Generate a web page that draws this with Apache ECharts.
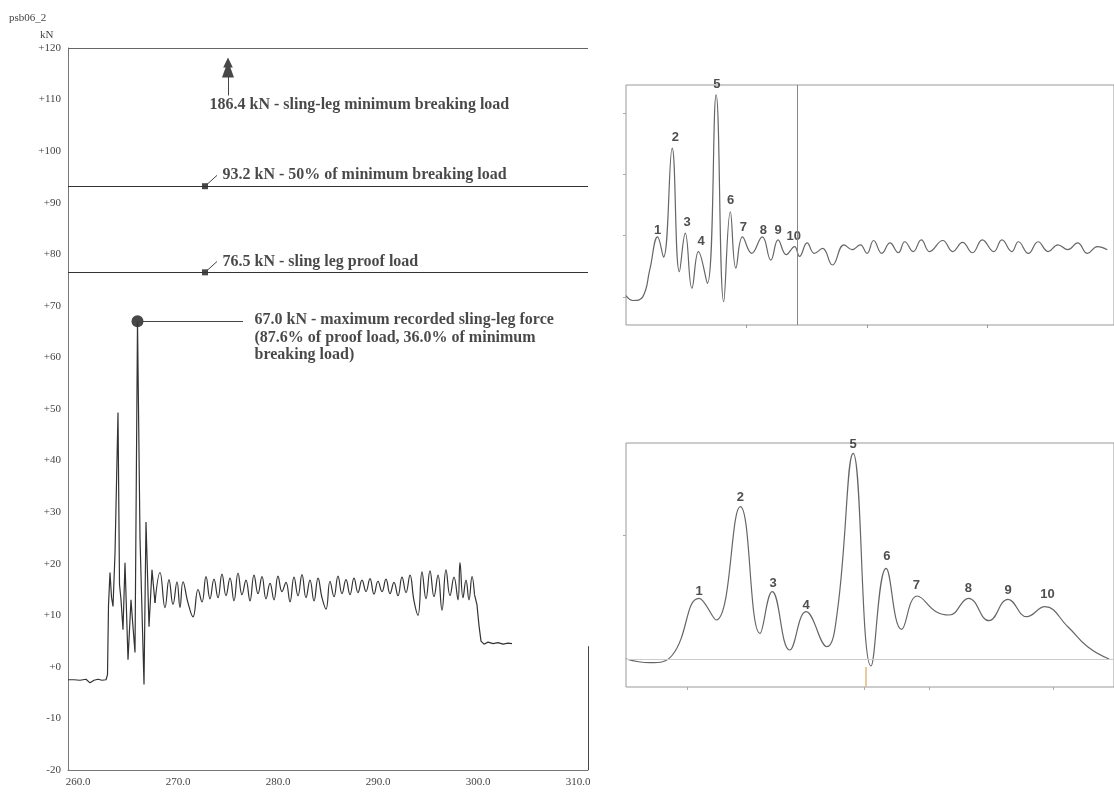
<!DOCTYPE html>
<html><head><meta charset="utf-8">
<script src="https://cdn.jsdelivr.net/npm/echarts@6/dist/echarts.min.js"></script>
<style>html,body{margin:0;padding:0;background:#fff}#c{width:1114px;height:793px}</style>
</head><body><div id="c"></div>
<script>
// ---------- data ----------
const chartTitle = 'psb06_2';
const yUnit = 'kN';
const xTicksLeft = [260, 270, 280, 290, 300, 310];
const refLevels = [93.2, 76.5];
const maxPoint = [265.95, 67.0];
const refTexts = [
  '186.4 kN - sling-leg minimum breaking load',
  '93.2 kN - 50% of minimum breaking load',
  '76.5 kN - sling leg proof load'
];
const maxText = '67.0 kN - maximum recorded sling-leg force\n(87.6% of proof load, 36.0% of minimum\nbreaking load)';

// recorded sling-leg force [time, kN] — onset (lift-off transients)
const forceOnset = [
  [259.0,-2.5],[259.6,-2.5],[260.2,-2.6],[260.8,-2.4],[261.2,-3.1],[261.6,-2.6],[262.0,-2.4],[262.4,-2.6],[262.8,-2.5],
  [262.95,-1.5],[263.05,12.0],[263.2,18.3],[263.35,13.5],[263.5,11.7],[263.7,22.0],[264.0,49.3],[264.15,16.0],[264.3,13.0],
  [264.5,7.2],[264.7,20.2],[265.0,1.4],[265.3,13.0],[265.45,9.0],[265.7,2.8],[265.95,67.0],[266.2,25.0],[266.6,-3.4],
  [266.8,28.1],[267.1,7.8],[267.4,18.8],[267.7,12.4]
];
// steady suspended phase
const forceSteady = [
  [267.7,12.4],[268.2,18.3],[268.7,11.5],[269.1,16.9],[269.5,12.1],[269.9,16.5],
  [270.2,11.5],[270.5,16.5],[271.0,12.4],[271.5,9.7],
  [272.0,15.0],[272.4,12.6],[272.8,17.5],[273.2,13.2],[273.6,17.0],[274.0,13.4],[274.4,18.0],[274.8,13.8],[275.2,17.2],
  [275.6,12.8],[276.0,18.2],[276.4,14.0],[276.8,16.8],[277.2,12.8],[277.6,17.8],[278.0,14.2],[278.4,17.5],[278.8,13.2],
  [279.2,16.2],[279.6,13.0],[280.0,17.6],[280.4,14.6],[280.8,16.4],[281.2,12.6],[281.6,17.4],[282.0,13.8],[282.4,17.9],
  [282.8,13.4],[283.2,16.8],[283.6,12.8],[284.0,17.2],[284.4,13.4],[284.8,11.2],[285.2,16.6],[285.6,13.6],[286.0,17.6],
  [286.4,14.2],[286.8,16.9],[287.2,14.0],[287.6,17.2],[288.0,14.4],[288.4,16.8],[288.8,14.6],[289.2,17.1],[289.6,14.1],
  [290.0,16.6],[290.4,14.6],[290.8,17.0],[291.2,14.2],[291.6,16.4],[292.0,13.8],[292.4,17.4],[292.8,14.4],[293.2,17.8],
  [293.6,12.8],[294.0,10.0],[294.4,18.4],[294.8,13.2],[295.2,18.6],[295.6,13.6],[296.0,17.8],[296.4,11.0],[296.8,18.8],
  [297.2,13.8],[297.6,17.4],[298.0,13.0],[298.2,20.2],[298.5,13.4],[298.8,16.8],[299.1,13.0],[299.4,17.5],[299.65,14.0]
];
// after set-down
const forceTail = [
  [299.65,14.0],[299.9,12.0],[300.1,8.0],[300.3,5.0],[300.6,4.4],[301.0,4.8],[301.5,4.5],[302.0,4.7],[302.5,4.4],[303.0,4.6],[303.4,4.5]
];

// upper-right panel trace [x, y]
const topTrace = [
  [0.0,0.02],[0.057,-0.06],[0.139,0.0],[0.197,0.44],[0.262,0.98],[0.311,0.65],[0.383,2.43],[0.443,0.41],
  [0.492,1.04],[0.547,0.14],[0.601,0.74],[0.675,0.22],[0.748,3.30],[0.811,-0.08],[0.866,1.39],[0.912,0.47],[0.967,0.98],
  [1.043,0.71],[1.131,0.98],[1.202,0.60],[1.262,0.93],[1.330,0.69],[1.399,0.82],[1.440,0.66],[1.503,0.88],[1.563,0.71],
  [1.631,0.79],[1.713,0.52],[1.809,0.85],[1.877,0.77],[1.945,0.85],[2.000,0.71],[2.055,0.92],[2.123,0.71],[2.191,0.88],
  [2.260,0.72],[2.314,0.90],[2.383,0.74],[2.451,0.93],[2.519,0.74],[2.629,0.92],[2.711,0.74],[2.793,0.89],[2.875,0.72],
  [2.957,0.93],[3.052,0.74],[3.120,0.93],[3.202,0.74],[3.257,0.90],[3.339,0.71],[3.420,0.90],[3.503,0.74],[3.585,0.85],
  [3.667,0.77],[3.748,0.88],[3.830,0.71],[3.912,0.82],[3.994,0.77]
];
const topPeakLabels = [
  ['1',0.262,1.09],['2',0.410,2.61],['3',0.508,1.21],['4',0.623,0.90],['5',0.754,3.47],
  ['6',0.869,1.58],['7',0.975,1.13],['8',1.139,1.09],['9',1.262,1.08],['10',1.393,0.98]
];
const topMarkerX = 1.418;

// lower-right panel trace [x, y]
const bottomTrace = [
  [0,0],[2.4,-0.37],[4.7,0.4],[7.4,6.07],[9.13,3.9],[11.57,15.23],[13.57,2.57],[14.8,6.73],
  [16.57,0.9],[18.23,4.73],[20.33,1.23],[21.4,4.8],[23.0,20.57],[24.8,-0.7],[26.33,9.07],[27.9,2.97],[29.47,6.3],
  [31.4,4.73],[32.73,4.4],[34.67,6.07],[36.73,3.83],[38.67,5.97],[40.57,4.23],[42.4,5.23],[44.73,3.23],[46.73,1.23],[48.9,0]
];
const bottomPeakLabels = [
  ['1',7.4,6.73],['2',11.57,16.17],['3',14.9,7.57],['4',18.23,5.4],['5',23.0,21.5],
  ['6',26.4,10.3],['7',29.4,7.33],['8',34.67,7.07],['9',38.67,6.83],['10',42.67,6.5]
];

// ---------- chart ----------
const serif = 'Liberation Serif';
const sans = 'Liberation Sans';
const chart = echarts.init(document.getElementById('c'), null, {renderer: 'canvas'});

const annStyle = {fontFamily: serif, fontWeight: 'bold', fontSize: 16, color: '#1a1a1a'};
const traceStyle = {color: '#333', width: 1.2};

const option = {
  backgroundColor: '#fff',
  animation: false,
  title: {text: chartTitle, left: 4, top: 8, textStyle: {fontFamily: serif, fontSize: 11, fontWeight: 'normal', color: '#444'}},
  graphic: [{type: 'text', left: 40, top: 30, style: {text: yUnit, font: '11px "Liberation Serif"', fill: '#444'}}],
  grid: [
    {left: 68, top: 48, right: 526, bottom: 23},
    {left: 626, top: 85, right: -6, bottom: 468, show: true, borderColor: '#999', borderWidth: 1},
    {left: 626, top: 443, right: -6, bottom: 106, show: true, borderColor: '#999', borderWidth: 1}
  ],
  xAxis: [
    {type: 'value', gridIndex: 0, min: 259, max: 311,
     axisLine: {show: true, onZero: false, lineStyle: {color: '#777'}}, axisTick: {show: false}, splitLine: {show: false},
     axisLabel: {customValues: xTicksLeft, formatter: v => v.toFixed(1), fontFamily: serif, fontSize: 11, color: '#444', margin: 7}},
    {type: 'value', gridIndex: 1, min: 0, max: 4.05,
     axisLine: {show: false, onZero: false}, splitLine: {show: false}, axisLabel: {show: false},
     axisTick: {show: true, customValues: [1, 2, 3], length: 3, lineStyle: {color: '#999'}}},
    {type: 'value', gridIndex: 2, min: 0, max: 49.4,
     axisLine: {show: false, onZero: false}, splitLine: {show: false}, axisLabel: {show: false},
     axisTick: {show: true, customValues: [6.2, 24.1, 30.7, 43.2], length: 3, lineStyle: {color: '#aaa'}}}
  ],
  yAxis: [
    {type: 'value', gridIndex: 0, min: -20, max: 120, interval: 10,
     axisLine: {show: true, onZero: false, lineStyle: {color: '#777'}}, axisTick: {show: false}, splitLine: {show: false},
     axisLabel: {formatter: v => (v >= 0 ? '+' : '') + v, fontFamily: serif, fontSize: 11, color: '#444', margin: 7}},
    {type: 'value', gridIndex: 1, min: -0.46, max: 3.46,
     axisLine: {show: false, onZero: false}, splitLine: {show: false}, axisLabel: {show: false},
     axisTick: {show: true, customValues: [0, 1, 2, 3], length: 3, lineStyle: {color: '#aaa'}}},
    {type: 'value', gridIndex: 2, min: -2.8, max: 21.6,
     axisLine: {show: false, onZero: false}, splitLine: {show: false}, axisLabel: {show: false},
     axisTick: {show: true, customValues: [12.4], length: 3, lineStyle: {color: '#aaa'}}}
  ],
  series: [
    {
      name: 'onset', type: 'line', xAxisIndex: 0, yAxisIndex: 0, data: forceOnset,
      showSymbol: false, lineStyle: traceStyle,
      markLine: {
        symbol: 'none', silent: true, label: {show: false}, animation: false,
        lineStyle: {color: '#444', width: 1, type: 'solid'},
        data: [
          {yAxis: 120, lineStyle: {color: '#666', width: 1}},
          {yAxis: refLevels[0], lineStyle: {color: '#333', width: 1.2}},
          {yAxis: refLevels[1], lineStyle: {color: '#333', width: 1.2}},
          [{coord: [272.7, refLevels[0]]}, {coord: [273.9, refLevels[0] + 2.1]}],
          [{coord: [272.7, refLevels[1]]}, {coord: [273.9, refLevels[1] + 2.1]}],
          [{coord: [maxPoint[0], maxPoint[1]]}, {coord: [276.5, maxPoint[1]]}],
          [{coord: [275.0, 110.8]}, {coord: [275.0, 114.5]}],
          [{coord: [311, -20]}, {coord: [311, 4]}]
        ]
      }
    },
    {name: 'steady', type: 'line', xAxisIndex: 0, yAxisIndex: 0, data: forceSteady,
     showSymbol: false, smooth: 0.45, lineStyle: traceStyle},
    {name: 'tail', type: 'line', xAxisIndex: 0, yAxisIndex: 0, data: forceTail,
     showSymbol: false, lineStyle: traceStyle},
    {
      name: 'markers', type: 'scatter', xAxisIndex: 0, yAxisIndex: 0, silent: true, clip: false,
      itemStyle: {color: '#1a1a1a'},
      data: [
        {value: [272.7, refLevels[0]], symbol: 'rect', symbolSize: 6},
        {value: [272.7, refLevels[1]], symbol: 'rect', symbolSize: 6},
        {value: maxPoint, symbol: 'circle', symbolSize: 12},
        {value: [275.0, 116.2], symbol: 'path://M5,0 L9,7 L7,7 L10,14 L0,14 L3,7 L1,7 Z', symbolSize: [12, 20]}
      ]
    },
    {
      name: 'annotations', type: 'scatter', xAxisIndex: 0, yAxisIndex: 0, silent: true, clip: false,
      symbolSize: 1, itemStyle: {color: 'rgba(0,0,0,0)'},
      label: Object.assign({show: true, position: [0, 0], align: 'left', verticalAlign: 'middle'}, annStyle),
      data: [
        {value: [273.2, 108.95], label: {formatter: refTexts[0]}},
        {value: [274.5, 95.4], label: {formatter: refTexts[1]}},
        {value: [274.5, 78.5], label: {formatter: refTexts[2]}},
        {value: [277.7, 68.8], label: {formatter: maxText, verticalAlign: 'top', lineHeight: 17.5}}
      ]
    },
    {
      name: 'top', type: 'line', xAxisIndex: 1, yAxisIndex: 1, data: topTrace,
      showSymbol: false, smooth: 0.45, lineStyle: {color: '#666', width: 1.2},
      markLine: {symbol: 'none', silent: true, label: {show: false}, lineStyle: {color: '#888', width: 1, type: 'solid'},
        data: [{xAxis: topMarkerX}]}
    },
    {
      name: 'topLabels', type: 'scatter', xAxisIndex: 1, yAxisIndex: 1, silent: true, clip: false,
      symbolSize: 1, itemStyle: {color: 'rgba(0,0,0,0)'},
      label: {show: true, position: 'inside', formatter: p => p.data[2], fontFamily: sans, fontWeight: 'bold', fontSize: 13, color: '#222'},
      data: topPeakLabels.map(d => [d[1], d[2], d[0]])
    },
    {
      name: 'bottom', type: 'line', xAxisIndex: 2, yAxisIndex: 2, data: bottomTrace,
      showSymbol: false, smooth: 0.45, lineStyle: {color: '#666', width: 1.2},
      markLine: {symbol: 'none', silent: true, label: {show: false}, lineStyle: {color: '#ccc', width: 1, type: 'solid'},
        data: [
          {yAxis: 0},
          [{coord: [24.3, -0.8], lineStyle: {color: '#e3b878', width: 1.5}}, {coord: [24.3, -2.8]}]
        ]}
    },
    {
      name: 'bottomLabels', type: 'scatter', xAxisIndex: 2, yAxisIndex: 2, silent: true, clip: false,
      symbolSize: 1, itemStyle: {color: 'rgba(0,0,0,0)'},
      label: {show: true, position: 'inside', formatter: p => p.data[2], fontFamily: sans, fontWeight: 'bold', fontSize: 13, color: '#222'},
      data: bottomPeakLabels.map(d => [d[1], d[2], d[0]])
    }
  ]
};
chart.setOption(option);
</script>
</body></html>
